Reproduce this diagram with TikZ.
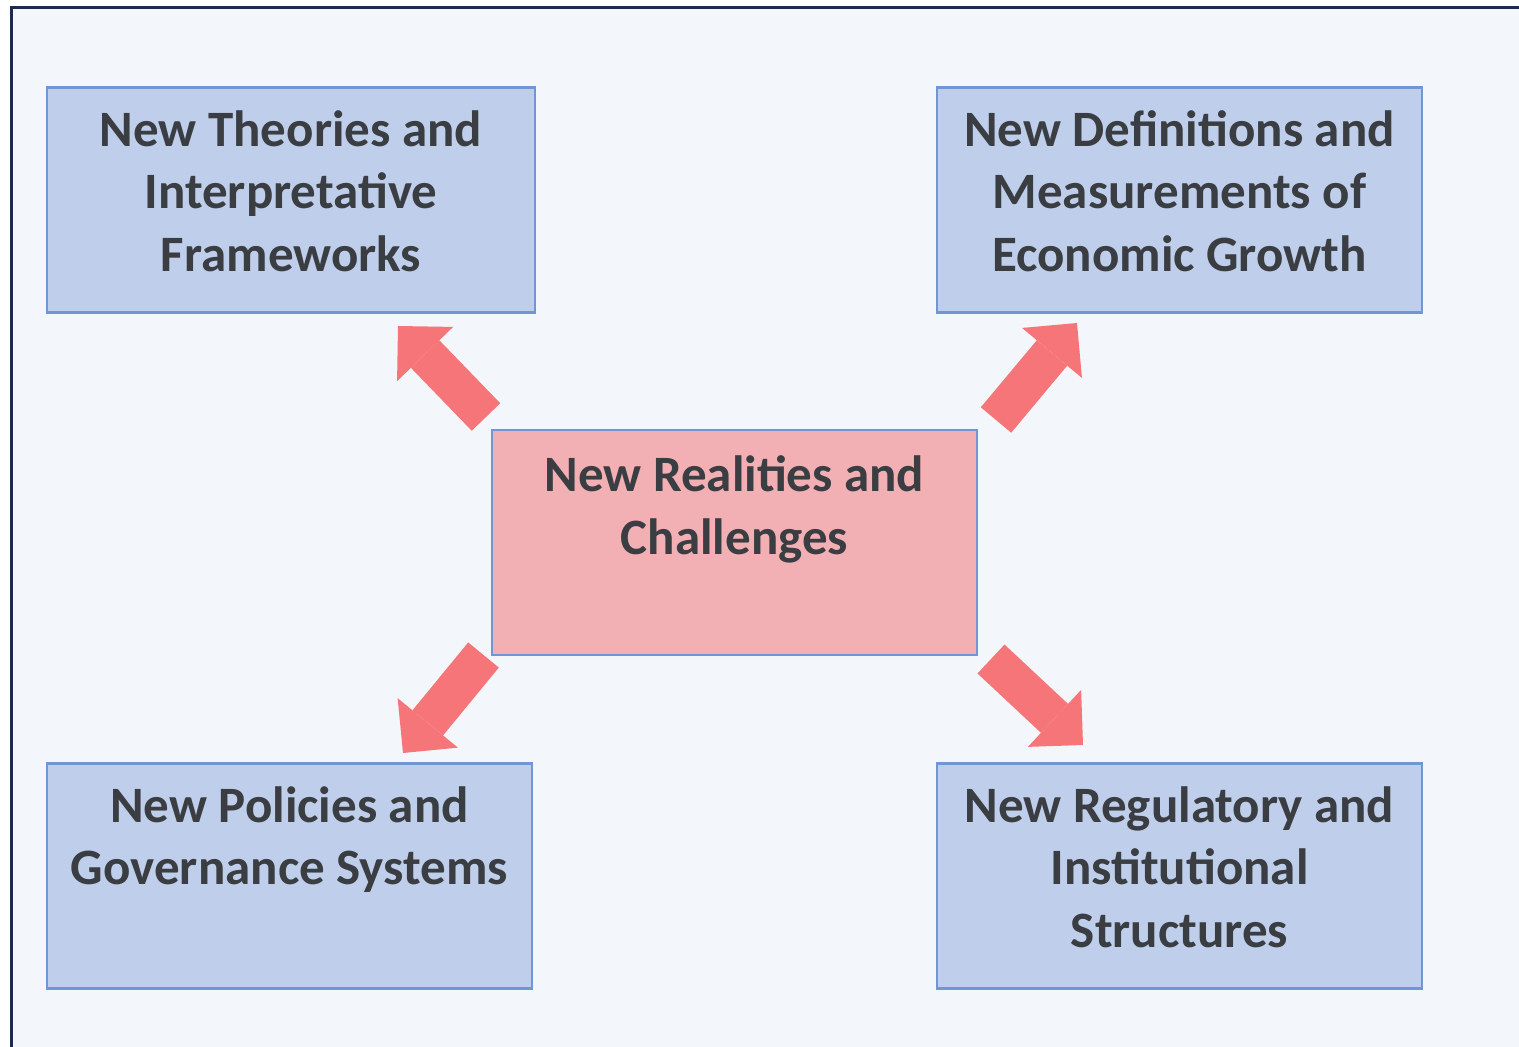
\documentclass[tikz,border=0pt]{standalone}
\usepackage{fontspec}
\setmainfont{Carlito}
\usetikzlibrary{arrows.meta}
\definecolor{pagebg}{RGB}{243,246,251}
\definecolor{framecol}{RGB}{27,43,75}
\definecolor{boxfill}{RGB}{191,206,234}
\definecolor{boxline}{RGB}{112,150,214}
\definecolor{corefill}{RGB}{242,176,180}
\definecolor{arrowred}{RGB}{245,117,121}
\definecolor{ink}{RGB}{58,61,66}

\begin{document}
\begin{tikzpicture}[x=1pt,y=-1pt,
  box/.style={draw=boxline, line width=2.5pt, fill=boxfill,
    minimum width=485pt, minimum height=225pt, inner sep=0pt},
  corebox/.style={box, fill=corefill},
  caption/.style={anchor=north, inner sep=0pt, align=center, text=ink,
    font=\fontsize{51}{62.4}\selectfont\bfseries},
  bigarrow/.style={draw=arrowred, line width=39.6pt,
    -{Triangle[length=39pt, width=78pt, line width=0pt, fill=arrowred, color=arrowred]}}
]
\useasboundingbox (0,0) rectangle (1519,1047);

% page and frame
\begin{scope}
  \clip (0,0) rectangle (1519,1047);
  \fill[white] (0,0) rectangle (1519,1047);
  \draw[framecol, line width=3pt, fill=pagebg] (11,7) rectangle (1545,1075);
\end{scope}

% boxes
\node[box, minimum width=488pt] (theo) at (291,200) {};
\node[box] (defs) at (1179.5,200) {};
\node[corebox] (core) at (734.5,542.5) {};
\node[box] (poli) at (289.5,876) {};
\node[box] (regu) at (1179.5,876) {};

% captions, first baseline about 60pt below each box top
\node[caption] (theot) at ([yshift=-15pt]theo.north)
  {\rule{0pt}{45pt}New Theories and\\Interpretative\\Frameworks};
\node[caption] (defst) at ([yshift=-15pt]defs.north)
  {\rule{0pt}{45pt}New Definitions and\\Measurements of\\Economic Growth};
\node[caption] (coret) at ([yshift=-18pt]core.north)
  {\rule{0pt}{45pt}New Realities and\\Challenges};
\node[caption] (polit) at ([yshift=-15pt]poli.north)
  {\rule{0pt}{45pt}New Policies and\\Governance Systems};
\node[caption] (regut) at ([yshift=-15pt]regu.north)
  {\rule{0pt}{45pt}New Regulatory and\\Institutional\\Structures};

% block arrows radiating from the centre box
\coordinate (a1s) at (486,417);   \coordinate (a1e) at (398,326);
\coordinate (a2s) at (996,420);   \coordinate (a2e) at (1077,323);
\coordinate (a3s) at (483.5,655); \coordinate (a3e) at (403,753);
\coordinate (a4s) at (991,659);   \coordinate (a4e) at (1083,745);
\draw[bigarrow] (a1s) -- (a1e);
\draw[bigarrow] (a2s) -- (a2e);
\draw[bigarrow] (a3s) -- (a3e);
\draw[bigarrow] (a4s) -- (a4e);
\end{tikzpicture}
\end{document}
